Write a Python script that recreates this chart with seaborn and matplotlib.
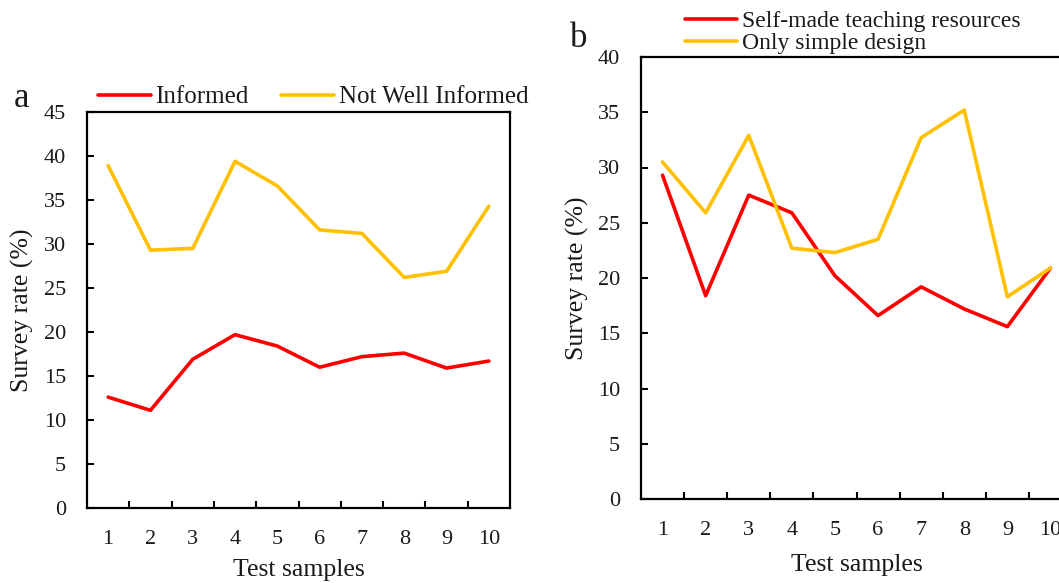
import matplotlib
matplotlib.use("Agg")
import matplotlib.pyplot as plt
import seaborn as sns
import pandas as pd
import numpy as np

# ---------------- data ----------------
samples = [1, 2, 3, 4, 5, 6, 7, 8, 9, 10]
informed = [12.6, 11.1, 16.9, 19.7, 18.4, 16.0, 17.2, 17.6, 15.9, 16.7]
not_well_informed = [38.9, 29.3, 29.5, 39.4, 36.6, 31.6, 31.2, 26.2, 26.9, 34.3]
self_made = [29.3, 18.4, 27.5, 25.9, 20.2, 16.6, 19.2, 17.2, 15.6, 20.9]
simple_design = [30.5, 25.9, 32.9, 22.7, 22.3, 23.5, 32.7, 35.2, 18.3, 20.9]

labels_a = ["Informed", "Not Well Informed"]
labels_b = ["Self-made teaching resources", "Only simple design"]
yticks_a = [0, 5, 10, 15, 20, 25, 30, 35, 40, 45]
yticks_b = [0, 5, 10, 15, 20, 25, 30, 35, 40]
colors = ["#FF0000", "#FFC000"]

df_a = pd.DataFrame({
    "sample": samples * 2,
    "rate": informed + not_well_informed,
    "series": [labels_a[0]] * 10 + [labels_a[1]] * 10,
})
df_b = pd.DataFrame({
    "sample": samples * 2,
    "rate": self_made + simple_design,
    "series": [labels_b[0]] * 10 + [labels_b[1]] * 10,
})

sns.set_theme(style="white")
plt.rcParams["font.family"] = ["Liberation Serif", "DejaVu Serif"]
TXT = "#1a1a1a"

W, H = 1059, 583
fig = plt.figure(figsize=(W / 100, H / 100), dpi=100)

def px_axes(l, t, r, b):
    return fig.add_axes([l / W, 1 - b / H, (r - l) / W, (b - t) / H])

ax_a = px_axes(87, 112, 510, 508)
ax_b = px_axes(641, 57, 1072, 499)

def style(ax, df, labels, yticks, ymax, xl_y, yl_x):
    sns.lineplot(data=df, x="sample", y="rate", hue="series", hue_order=labels,
                 palette=colors, linewidth=2.6, ax=ax, legend=True)
    ax.set_xlim(0.5, 10.5)
    ax.set_ylim(0, ymax)
    ax.set_yticks(yticks)
    ax.set_xticks(samples)
    ax.set_xticks(np.arange(1.5, 10.5, 1.0), minor=True)
    ax.tick_params(axis="x", which="major", length=0, pad=16,
                   labelsize=16, labelcolor=TXT)
    ax.tick_params(axis="x", which="minor", direction="in", length=5,
                   width=1.5, color="black", bottom=True)
    ax.tick_params(axis="y", which="major", direction="in", length=5,
                   width=1.5, color="black", left=True, pad=15,
                   labelsize=16, labelcolor=TXT)
    for s in ax.spines.values():
        s.set_visible(True)
        s.set_color("black")
        s.set_linewidth(1.6)
    ax.set_xlabel("Test samples", fontsize=18.5, color=TXT)
    ax.set_ylabel("Survey rate (%)", fontsize=18.5, color=TXT)
    ax.xaxis.set_label_coords(0.5, xl_y)
    ax.xaxis.label.set_va("center")
    ax.yaxis.set_label_coords(yl_x, 0.5)
    ax.yaxis.label.set_va("center")
    ax.grid(False)

style(ax_a, df_a, labels_a, yticks_a, 45, (508 - 570) / 396, (22 - 87) / 423)
style(ax_b, df_b, labels_b, yticks_b, 40, (499 - 565) / 442, (577 - 641) / 431)

# legends
h_a, l_a = ax_a.get_legend_handles_labels()
ax_a.legend(h_a, l_a, ncol=2, loc="center left", frameon=False,
            bbox_to_anchor=(98 / W, 1 - 97 / H), bbox_transform=fig.transFigure,
            fontsize=18, handlelength=2.1, handletextpad=0.2, columnspacing=1.3,
            borderpad=0, borderaxespad=0, labelcolor=TXT)
h_b, l_b = ax_b.get_legend_handles_labels()
ax_b.legend(h_b, l_b, ncol=1, loc="center left", frameon=False,
            bbox_to_anchor=(685 / W, 1 - 32.5 / H), bbox_transform=fig.transFigure,
            fontsize=17, handlelength=2.2, handletextpad=0.2, labelspacing=0.02,
            borderpad=0, borderaxespad=0, labelcolor=TXT)

fig.text(14 / W, 1 - 107 / H, "a", fontsize=25, color=TXT, ha="left", va="baseline")
fig.text(570 / W, 1 - 47 / H, "b", fontsize=25, color=TXT, ha="left", va="baseline")

fig.savefig("out.png", dpi=100)
